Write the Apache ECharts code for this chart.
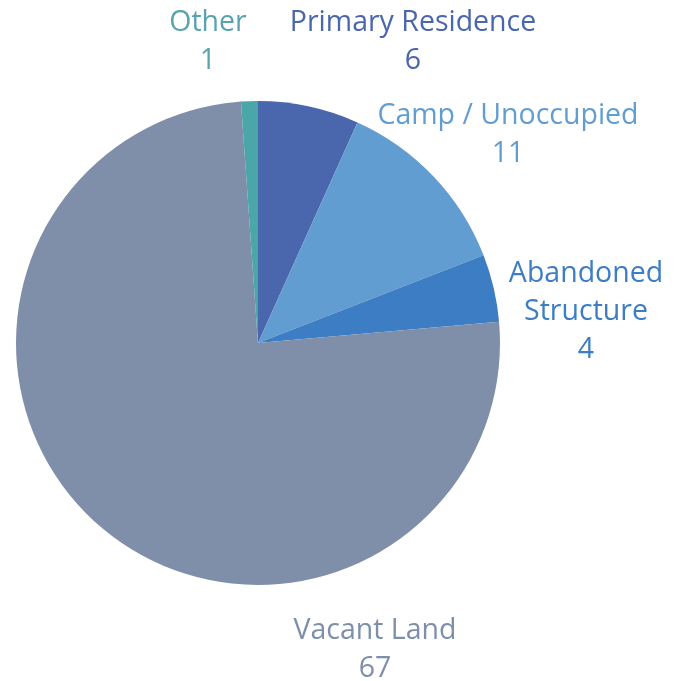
<!DOCTYPE html>
<html>
<head>
<meta charset="utf-8">
<script src="https://cdn.jsdelivr.net/npm/echarts@6/dist/echarts.min.js"></script>
<style>
    html, body { margin: 0; padding: 0; background: #fff; }
    #chart_div { width: 676px; height: 681px; }
</style>
</head>
<body>
<div id="chart_div"></div>
<script>
    // data (clockwise from 12 o'clock)
    var categories = ['Primary Residence', 'Camp / Unoccupied', 'Abandoned Structure', 'Vacant Land', 'Other'];
    var values = [6, 11, 4, 67, 1];
    var sliceColors = ['#4a66ac', '#629dd1', '#3d7dc4', '#7f8fa9', '#4aa6a8'];
    var textColors = ['#4a66ac', '#629dd1', '#3d7dc4', '#7f8fa9', '#5aa3ad'];

    // label anchor (centre of text block) for each slice, Excel style manual placement
    var labelSpots = [[413, 42], [508, 135], [586, 312], [375, 650], [208, 42]];

    var myChart = echarts.init(document.getElementById('chart_div'));

    myChart.setOption({
        animation: false,
        series: [
            {
                type: 'pie',
                center: [258, 343],
                radius: 242,
                startAngle: 90,
                clockwise: true,
                avoidLabelOverlap: false,
                itemStyle: {
                    borderWidth: 0
                },
                label: {
                    show: true,
                    position: 'outside',
                    fontFamily: 'Open Sans',
                    fontSize: 28.5,
                    lineHeight: 38,
                    align: 'center',
                    formatter: function (p) {
                        var name = p.name === 'Abandoned Structure' ? 'Abandoned\nStructure' : p.name;
                        return name + '\n' + p.value;
                    }
                },
                labelLine: { show: false },
                labelLayout: function (params) {
                    var spot = labelSpots[params.dataIndex];
                    return {
                        x: spot[0],
                        y: spot[1],
                        align: 'center',
                        verticalAlign: 'middle'
                    };
                },
                data: categories.map(function (c, i) {
                    return {
                        name: c,
                        value: values[i],
                        itemStyle: { color: sliceColors[i] },
                        label: { color: textColors[i] }
                    };
                })
            }
        ]
    });
</script>
</body>
</html>
